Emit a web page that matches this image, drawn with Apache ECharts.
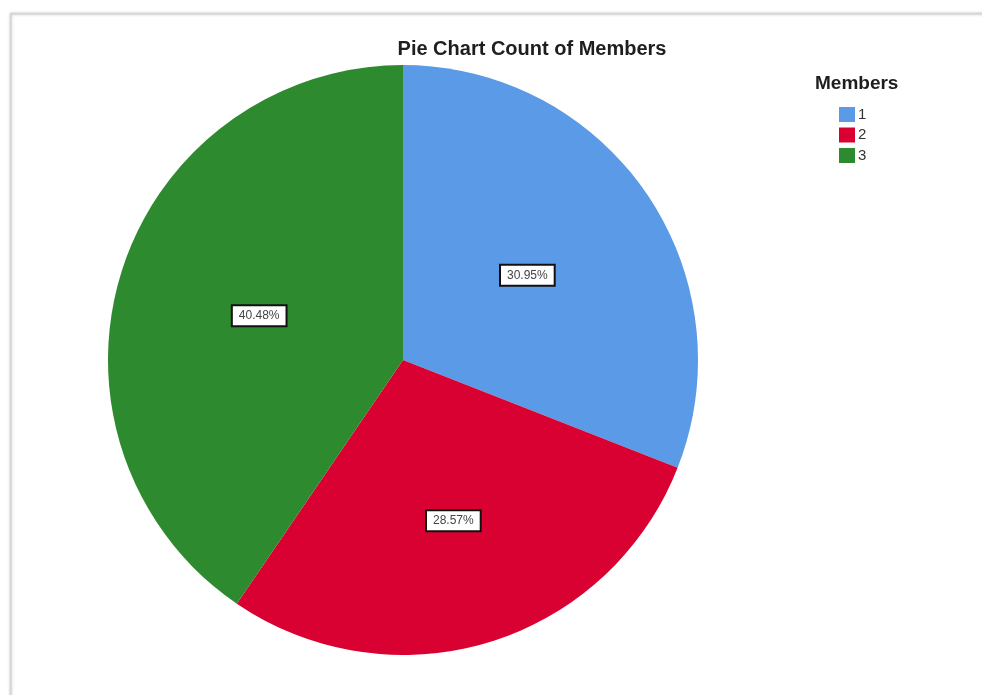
<!DOCTYPE html>
<html>
<head>
<meta charset="utf-8">
<style>
  html, body { margin: 0; padding: 0; background: #ffffff; }
  #chart { width: 982px; height: 695px; }
</style>
<script src="https://cdn.jsdelivr.net/npm/echarts@6/dist/echarts.min.js"></script>
</head>
<body>
<div id="chart"></div>
<script>
// Count of members per group
const categories = ['1', '2', '3'];
const counts = [13, 12, 17];
const colors = ['#5a9ae6', '#d90032', '#2e8a2e'];

const chart = echarts.init(document.getElementById('chart'), null, { renderer: 'canvas' });

const total = counts.reduce((a, b) => a + b, 0);
const FONT = 'Liberation Sans, Arial, Helvetica, sans-serif';

// the lower slice's label sits a little further out from the centre
const labelNudge = [null, [6, 17], null];

chart.setOption({
  backgroundColor: '#ffffff',
  animation: false,
  graphic: [
    // panel frame
    {
      type: 'rect',
      left: 10, top: 13,
      shape: { width: 990, height: 700 },
      style: {
        fill: '#ffffff',
        stroke: '#d4d4d4',
        lineWidth: 1.5,
        shadowBlur: 3,
        shadowColor: 'rgba(0,0,0,0.25)'
      },
      z: -10
    },
    // legend heading
    {
      type: 'text',
      left: 815,
      top: 74,
      style: {
        text: 'Members',
        fontFamily: FONT,
        fontWeight: 'bold',
        fontSize: 19,
        fill: '#1e1e1e'
      }
    }
  ],
  title: {
    text: 'Pie Chart Count of Members',
    left: 532,
    top: 39,
    padding: 0,
    textAlign: 'center',
    textStyle: {
      fontFamily: FONT,
      fontWeight: 'bold',
      fontSize: 20,
      color: '#1e1e1e'
    }
  },
  legend: {
    orient: 'vertical',
    left: 839,
    top: 107,
    padding: 0,
    itemWidth: 16,
    itemHeight: 15,
    itemGap: 5.5,
    icon: 'rect',
    data: categories,
    textStyle: {
      fontFamily: FONT,
      fontSize: 15,
      color: '#333',
      padding: [0, 0, 0, -2]
    },
    selectedMode: false
  },
  series: [
    {
      type: 'pie',
      center: [403, 360],
      radius: [0, 295],
      startAngle: 90,
      clockwise: true,
      silent: true,
      data: categories.map((c, i) => {
        const item = {
          name: c,
          value: counts[i],
          itemStyle: { color: colors[i] }
        };
        if (labelNudge[i]) item.label = { offset: labelNudge[i] };
        return item;
      }),
      label: {
        show: true,
        position: 'inside',
        formatter: (p) => (p.value / total * 100).toFixed(2) + '%',
        fontFamily: FONT,
        fontSize: 12,
        color: '#444',
        backgroundColor: '#ffffff',
        borderColor: '#111',
        borderWidth: 2,
        padding: [4, 6, 3, 6]
      },
      labelLine: { show: false }
    }
  ]
});
</script>
</body>
</html>
